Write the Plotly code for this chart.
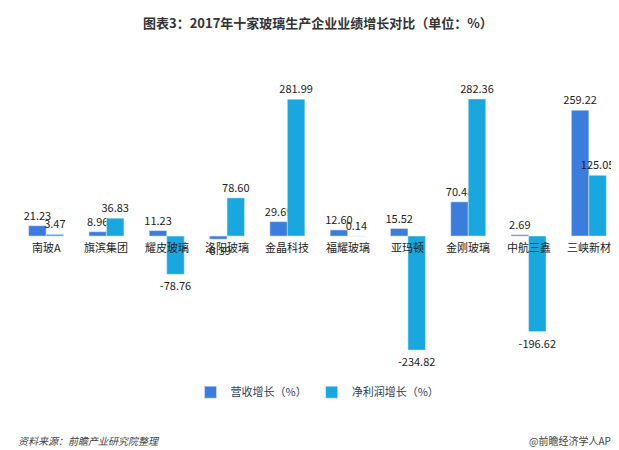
import plotly.graph_objects as go

companies = ["南玻A", "旗滨集团", "耀皮玻璃", "洛阳玻璃", "金晶科技", "福耀玻璃", "亚玛顿", "金刚玻璃", "中航三鑫", "三峡新材"]
revenue_growth = [21.23, 8.96, 11.23, -6.39, 29.69, 12.60, 15.52, 70.48, 2.69, 259.22]
profit_growth = [3.47, 36.83, -78.76, 78.60, 281.99, 0.14, -234.82, 282.36, -196.62, 125.05]

fig = go.Figure()
fig.add_trace(go.Bar(x=companies, y=revenue_growth, name="营收增长（%）", marker_color="#3b7ddd",
                     text=["%.2f" % v for v in revenue_growth], textposition="outside", cliponaxis=False))
fig.add_trace(go.Bar(x=companies, y=profit_growth, name="净利润增长（%）", marker_color="#19a7e0",
                     text=["%.2f" % v for v in profit_growth], textposition="outside", cliponaxis=False))
fig.update_traces(textfont=dict(size=11, color="#222"), outsidetextfont=dict(size=11, color="#222"),
                  constraintext="none")

# category labels sit on the zero line
for c in companies:
    fig.add_annotation(x=c, y=0, text=c, showarrow=False, yanchor="top", yshift=-1,
                       font=dict(size=11, color="#222"))

fig.add_annotation(x=0.5, y=1.0, xref="paper", yref="paper", yanchor="bottom", yshift=54,
                   text="<b>图表3：2017年十家玻璃生产企业业绩增长对比（单位：%）</b>", showarrow=False,
                   font=dict(size=13, color="#333"))
fig.add_annotation(x=0, y=0, xref="paper", yref="paper", xanchor="left", yanchor="middle",
                   text="<i>资料来源：前瞻产业研究院整理</i>", showarrow=False, yshift=-68, xshift=0,
                   font=dict(size=10, color="#444"))
fig.add_annotation(x=1, y=0, xref="paper", yref="paper", xanchor="right", yanchor="middle",
                   text="@前瞻经济学人APP", showarrow=False, yshift=-68, xshift=0,
                   font=dict(size=10, color="#444"))

fig.update_layout(
    width=619, height=450,
    margin=dict(l=8, r=8, t=80, b=86, autoexpand=False),
    plot_bgcolor="white", paper_bgcolor="white",
    font=dict(family="Noto Sans CJK SC", size=11),
    bargap=0.42, bargroupgap=0.0,
    showlegend=True,
    legend=dict(orientation="h", x=0.5, xanchor="center", y=-0.02, yanchor="top", font=dict(size=11)),
)
fig.update_xaxes(showticklabels=False, showline=False, showgrid=False)
fig.update_yaxes(visible=False, range=[-280, 305], zeroline=True, zerolinecolor="#bbb", zerolinewidth=1)
fig.write_html("out.html")
